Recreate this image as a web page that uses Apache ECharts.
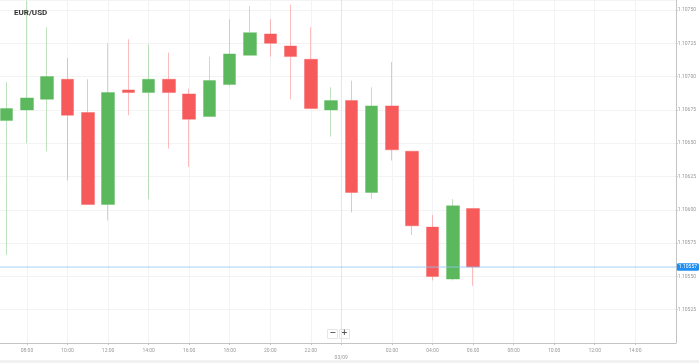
<!DOCTYPE html>
<html><head><meta charset="utf-8">
<script src="https://cdn.jsdelivr.net/npm/echarts@6/dist/echarts.min.js"></script>
<style>html,body{margin:0;padding:0;background:#fff}#c{width:699px;height:363px}</style>
</head><body><div id="c"></div>
<script>
// hour index (07:00 day 1 = 7 ... 06:00 next day = 30)
const hours = [7,8,9,10,11,12,13,14,15,16,17,18,19,20,21,22,23,24,25,26,27,28,29,30];
const open  = [1.10667,1.10675,1.10683,1.10698,1.10673,1.10604,1.10690,1.10688,1.10698,1.10687,1.10670,1.10694,1.10716,1.10732,1.10723,1.10713,1.10675,1.10682,1.10613,1.10678,1.10644,1.10587,1.10548,1.10601];
const close = [1.10676,1.10684,1.10700,1.10671,1.10604,1.10688,1.10688,1.10698,1.10688,1.10668,1.10697,1.10717,1.10733,1.10725,1.10715,1.10676,1.10682,1.10613,1.10678,1.10645,1.10588,1.10550,1.10603,1.10557];
const low   = [1.10566,1.10650,1.10644,1.10622,1.10604,1.10592,1.10671,1.10608,1.10646,1.10632,1.10670,1.10693,1.10716,1.10715,1.10683,1.10676,1.10655,1.10598,1.10608,1.10637,1.10581,1.10547,1.10547,1.10543];
const high  = [1.10696,1.10757,1.10737,1.10714,1.10698,1.10725,1.10728,1.10724,1.10718,1.10691,1.10715,1.10743,1.10753,1.10743,1.10754,1.10737,1.10692,1.10697,1.10692,1.10711,1.10644,1.10596,1.10608,1.10601];
const xTickValues = [8,10,12,14,16,18,20,22,23.5,26,28,30,32,34,36,38];
const xTickLabels = ['08:00','10:00','12:00','14:00','16:00','18:00','20:00','22:00','\n03/09','02:00','04:00','06:00','08:00','10:00','12:00','14:00'];
const xRange = [6.67, 40];
const lastPrice = close[close.length - 1];

const chart = echarts.init(document.getElementById('c'));
const splitColors = xTickValues.map(v => v === 23.5 ? '#e6e6e6' : '#f3f3f3');
chart.setOption({
  animation: false,
  backgroundColor: '#fff',
  title: {
    text: 'EUR/USD', left: 9, top: 4,
    textStyle: { fontFamily: 'Roboto', fontSize: 8, fontWeight: 'bold', color: '#333' }
  },
  grid: { left: 0, right: 23, top: 0, bottom: 20 },
  xAxis: {
    type: 'value', min: xRange[0], max: xRange[1],
    axisLine: { lineStyle: { color: '#c4c4c4' } },
    axisTick: { show: true, length: 2, customValues: xTickValues, lineStyle: { color: '#c4c4c4' } },
    axisLabel: {
      customValues: xTickValues, fontFamily: 'Roboto', fontSize: 5, color: '#999', margin: 4, lineHeight: 7,
      formatter: (v) => { const i = xTickValues.indexOf(v); return i >= 0 ? xTickLabels[i] : ''; }
    },
    splitLine: { show: true, lineStyle: { color: splitColors, width: 1 } }
  },
  yAxis: {
    type: 'value', position: 'right', min: 1.105, max: 1.107575, interval: 0.00025, scale: true,
    axisLine: { show: true, lineStyle: { color: '#c4c4c4' } },
    axisTick: { show: true, length: 2, lineStyle: { color: '#c4c4c4' } },
    axisLabel: {
      fontFamily: 'Roboto', fontSize: 5, color: '#999', margin: 2, showMinLabel: false, showMaxLabel: false,
      formatter: (v) => v.toFixed(5)
    },
    splitLine: { show: true, lineStyle: { color: '#f3f3f3' } }
  },
  series: [{
    type: 'candlestick',
    z: 2,
    dimensions: ['t', 'open', 'close', 'lowest', 'highest'],
    encode: { x: 't', y: ['open', 'close', 'lowest', 'highest'] },
    data: hours.map((h, i) => [h, open[i], close[i], low[i], high[i]]),
    barWidth: 13,
    itemStyle: {
      color: '#5cb85c', color0: '#f65a5a',
      borderColor: 'rgba(92,184,92,0.4)', borderColor0: 'rgba(246,90,90,0.4)', borderWidth: 1
    }
  }, {
    type: 'line',
    data: xRange.map(x => [x, lastPrice]),
    showSymbol: false,
    symbol: 'none',
    silent: true,
    z: 3,
    lineStyle: { color: 'rgba(140,200,245,0.8)', width: 1, type: 'solid' },
    endLabel: {
      show: true, distance: 1, formatter: () => lastPrice.toFixed(5),
      backgroundColor: '#1e8ef0', color: '#fff', fontFamily: 'Roboto', fontSize: 5,
      padding: [1.5, 2, 1, 2], borderRadius: 1.5
    }
  }],
  graphic: [
    { type: 'rect', left: 0, top: 360, shape: { width: 699, height: 3 }, style: { fill: '#f2f2f2' }, silent: true },
    { type: 'rect', left: 327, top: 329, shape: { width: 10, height: 9 }, style: { fill: '#fff', stroke: '#e6e6e6' }, silent: true },
    { type: 'rect', left: 339, top: 329, shape: { width: 10, height: 9 }, style: { fill: '#fff', stroke: '#e6e6e6' }, silent: true },
    { type: 'text', left: 329.5, top: 328.5, style: { text: '−', fill: '#555', fontSize: 8, fontWeight: 'bold', fontFamily: 'DejaVu Sans' }, silent: true },
    { type: 'text', left: 341, top: 328.5, style: { text: '+', fill: '#555', fontSize: 8, fontWeight: 'bold', fontFamily: 'DejaVu Sans' }, silent: true }
  ]
});
</script></body></html>
